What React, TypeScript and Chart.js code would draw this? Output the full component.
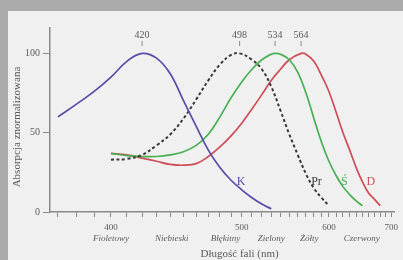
import React, { useEffect, useRef } from "react";
import { Chart, registerables } from "chart.js";
Chart.register(...registerables);

// Wavelengths (nm) and normalised absorption (%) for each curve
const sNm = [370, 380, 390, 400, 410, 420, 430, 440, 450, 460, 470, 480, 490, 500, 510, 520, 530];
const sVal = [60, 68, 76, 85, 95, 100, 97, 87, 70, 54, 39, 28, 20, 14, 9, 5, 2];

const rodNm = [400, 410, 420, 430, 440, 450, 460, 470, 480, 490, 498, 510, 520, 530, 540, 550, 560, 570, 580, 590, 600];
const rodVal = [33, 33.5, 36, 42, 49, 59, 71, 83, 93, 99, 100, 96, 90, 79, 64, 49, 36, 24, 15, 9, 4];

const mNm = [400, 410, 420, 430, 440, 450, 460, 470, 480, 490, 500, 510, 520, 530, 534, 540, 550, 560, 570, 580, 590, 600, 610, 620, 630, 640, 650];
const mVal = [37, 35.5, 35, 35, 36, 38, 42, 49, 60, 72, 82, 90, 96, 99.5, 100, 99.5, 96, 88, 75, 59, 44, 32, 23, 16, 11, 7, 4];

const lNm = [400, 410, 420, 430, 440, 450, 460, 470, 480, 490, 500, 510, 520, 530, 540, 550, 564, 570, 580, 590, 600, 610, 620, 630, 640, 650, 660, 670, 680];
const lVal = [37, 36, 34, 32, 30, 29.5, 30.5, 35, 41, 48, 56, 65, 74, 83, 90, 96, 100, 99.5, 95, 86, 76, 63, 50, 39, 28, 19, 12, 8, 4];

// Axis ticks
const xMinorTicks = [370, 380, 390, 400, 410, 420, 430, 440, 450, 460, 470, 480, 490, 500, 510, 520, 530, 540, 550, 560, 570, 580, 590, 600, 610, 620, 630, 640, 650, 660, 670, 680, 690, 700];
const xTickLabels = [400, 500, 600, 700];
const yTicks = [0, 50, 100];

// Annotations
const peakLabels = [420, 498, 534, 564];
const colorNames = ["Fioletowy", "Niebieski", "Błękitny", "Zielony", "Żółty", "Czerwony"];
const colorNameNm = [400, 441, 485, 530, 574, 649];
const curveLetters = ["K", "Pr", "Ś", "D"];
const curveLetterNm = [499.5, 583.4, 622, 664];
const curveLetterVal = [18.9, 18.9, 18.9, 18.9];

const xTitle = "Długość fali (nm)";
const yTitle = "Absorpcja znormalizowana";

const BLUE = "rgb(88,76,168)";
const GREEN = "rgb(72,176,84)";
const RED = "rgb(206,78,88)";
const DARK = "rgb(55,55,55)";
const AXIS = "#8a8a8a";
const TEXT = "#5a5a5a";
const SERIF = "'Liberation Serif', 'DejaVu Serif', serif";

// reciprocal wavelength axis (wavenumber-like)
const toT = (nm: number) => -1000 / nm;
const T_MIN = (50 - 771.5) / 264;
const T_MAX = (398 - 771.5) / 264;

const pts = (nm: number[], v: number[]) => nm.map((n, i) => ({ x: toT(n), y: v[i] }));

const letterColors = [BLUE, DARK, GREEN, RED];

const annotPlugin = {
  id: "annot",
  afterDraw(chart: any) {
    const { ctx } = chart;
    const xs = chart.scales.x;
    const ys = chart.scales.y;
    ctx.save();
    // peak labels
    ctx.fillStyle = TEXT;
    ctx.strokeStyle = AXIS;
    ctx.lineWidth = 1;
    ctx.font = `10px ${SERIF}`;
    ctx.textAlign = "center";
    ctx.textBaseline = "middle";
    peakLabels.forEach((nm) => {
      const x = xs.getPixelForValue(toT(nm));
      ctx.fillText(String(nm), x, 24);
      ctx.beginPath();
      ctx.moveTo(x, 30);
      ctx.lineTo(x, 35);
      ctx.stroke();
    });
    // curve letters
    ctx.font = `12px ${SERIF}`;
    curveLetters.forEach((t, i) => {
      ctx.fillStyle = letterColors[i];
      ctx.fillText(t, xs.getPixelForValue(toT(curveLetterNm[i])), ys.getPixelForValue(curveLetterVal[i]));
    });
    // colour names
    ctx.fillStyle = TEXT;
    ctx.font = `italic 9px ${SERIF}`;
    colorNames.forEach((t, i) => {
      ctx.fillText(t, xs.getPixelForValue(toT(colorNameNm[i])), 228);
    });
    // x title
    ctx.font = `11px ${SERIF}`;
    ctx.fillText(xTitle, xs.getPixelForValue(toT(498)), 243);
    // y title
    ctx.translate(9, 116);
    ctx.rotate(-Math.PI / 2);
    ctx.font = `11px ${SERIF}`;
    ctx.fillText(yTitle, 0, 0);
    ctx.restore();
  },
};

export default function App() {
  const ref = useRef<HTMLCanvasElement>(null);
  useEffect(() => {
    document.body.style.margin = "0";
    const line = (label: string, data: any[], color: string, dash: number[] = []) => ({
      label,
      data,
      borderColor: color,
      borderWidth: dash.length ? 2 : 1.7,
      borderDash: dash,
      pointRadius: 0,
      fill: false,
      tension: 0.4,
    });
    const chart = new Chart(ref.current!, {
      type: "line",
      data: {
        datasets: [
          line("K", pts(sNm, sVal), BLUE),
          line("Pr", pts(rodNm, rodVal), DARK, [3, 2.5]),
          line("Ś", pts(mNm, mVal), GREEN),
          line("D", pts(lNm, lVal), RED),
        ],
      },
      options: {
        animation: false,
        responsive: false,
        devicePixelRatio: 1,
        layout: { padding: { top: 17, right: 5, left: 0, bottom: 0 } },
        plugins: { legend: { display: false }, tooltip: { enabled: false } },
        scales: {
          x: {
            type: "linear",
            min: T_MIN,
            max: T_MAX,
            afterBuildTicks: (s: any) => {
              s.ticks = xMinorTicks.map((nm) => ({ value: toT(nm) }));
            },
            afterFit: (s: any) => {
              s.height = 48;
            },
            ticks: {
              autoSkip: false,
              maxRotation: 0,
              padding: 5,
              color: TEXT,
              font: { family: SERIF, size: 9 },
              callback: (v: any) => {
                const nm = Math.round(-1000 / Number(v));
                return xTickLabels.includes(nm) ? String(nm) : "";
              },
            },
            grid: { drawOnChartArea: false, drawTicks: true, tickLength: 5, color: AXIS },
            border: { display: true, color: AXIS, width: 1.5 },
          },
          y: {
            type: "linear",
            min: 0,
            max: 116,
            afterBuildTicks: (s: any) => {
              s.ticks = yTicks.map((v) => ({ value: v }));
            },
            afterFit: (s: any) => {
              s.width = 42;
            },
            ticks: {
              padding: 3,
              color: TEXT,
              font: { family: SERIF, size: 10 },
            },
            grid: { drawOnChartArea: false, drawTicks: true, tickLength: 7, color: AXIS },
            border: { display: true, color: AXIS, width: 1.5 },
          },
        },
      },
      plugins: [annotPlugin],
    });
    return () => chart.destroy();
  }, []);
  return (
    <div style={{ position: "relative", width: 403, height: 260, background: "#ababab", overflow: "hidden" }}>
      <canvas
        ref={ref}
        width={395}
        height={249}
        style={{ position: "absolute", left: 8, top: 11, width: 395, height: 249, background: "#f0f0f0" }}
      />
    </div>
  );
}
